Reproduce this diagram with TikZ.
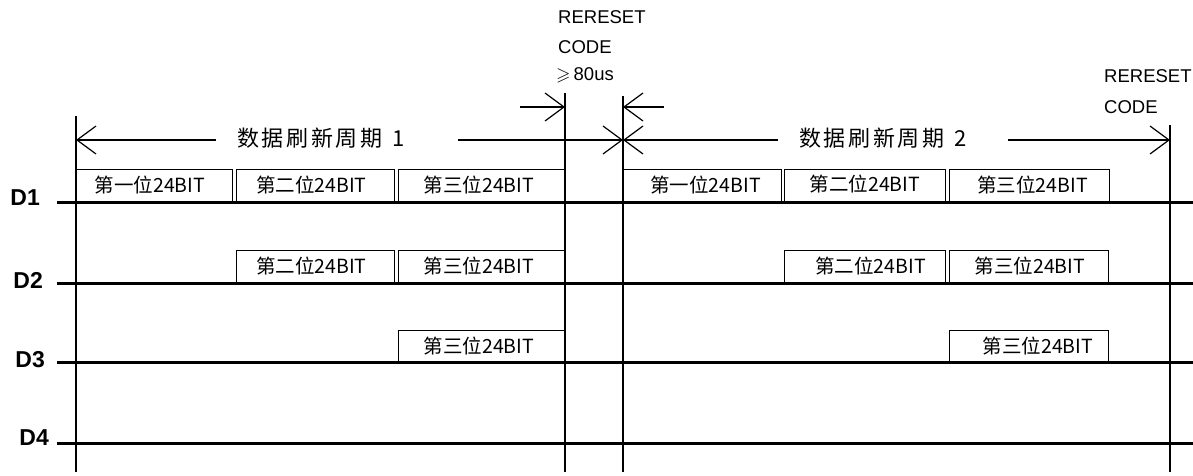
\documentclass[tikz,border=0pt]{standalone}
\usepackage{amssymb}
\usepackage{fontspec}
\setmainfont{Liberation Sans}
\newfontfamily\cjk{Noto Sans CJK SC}
\newfontfamily\cjkwide{Noto Sans CJK SC}[LetterSpace=12]
\usetikzlibrary{arrows.meta}
\tikzset{
  sigline/.style={line width=3pt},
  vline/.style={line width=1.4pt},
  bitbox/.style={draw, line width=1pt, minimum height=32pt, inner sep=0pt, anchor=south west,
    font=\cjk\fontsize{19.5}{21}\selectfont},
  dimline/.style={line width=1.2pt, -{Straight Barb[length=19pt,width=28pt]}},
  toplbl/.style={font=\fontsize{18.5}{20}\selectfont, anchor=west, inner sep=0pt},
  dlab/.style={font=\bfseries\fontsize{23}{25}\selectfont, anchor=east, inner sep=0pt},
  ttl/.style={font=\cjkwide\fontsize{22}{24}\selectfont, anchor=west, inner sep=0pt}
}
\begin{document}
\begin{tikzpicture}[x=1pt,y=-1pt]
\fill[white] (0,0) rectangle (1193,476);
\useasboundingbox (0,0) rectangle (1193,476);

% vertical lines
\coordinate (v1t) at (76,116);  \coordinate (v1b) at (76,472);
\coordinate (v2t) at (565,93);  \coordinate (v2b) at (565,472);
\coordinate (v3t) at (623,96);  \coordinate (v3b) at (623,472);
\coordinate (v4t) at (1170,125); \coordinate (v4b) at (1170,472);
\draw[vline] (v1t) -- (v1b);
\draw[vline] (v2t) -- (v2b);
\draw[vline] (v3t) -- (v3b);
\draw[vline] (v4t) -- (v4b);

% signal lines
\coordinate (d1s) at (57,202);  \coordinate (d1e) at (1193,202);
\coordinate (d2s) at (57,283);  \coordinate (d2e) at (1193,283);
\coordinate (d3s) at (57,362);  \coordinate (d3e) at (1193,362);
\coordinate (d4s) at (57,443);  \coordinate (d4e) at (1193,443);
\draw[sigline] (d1s) -- (d1e);
\draw[sigline] (d2s) -- (d2e);
\draw[sigline] (d3s) -- (d3e);
\draw[sigline] (d4s) -- (d4e);

\node[dlab] (D1) at (40,198) {D1};
\node[dlab] (D2) at (43,280) {D2};
\node[dlab] (D3) at (45,360) {D3};
\node[dlab] (D4) at (49,438) {D4};

% bit boxes, period 1
\node[bitbox, minimum width=156pt] (b11) at (76,202) {第一位24BIT\hspace*{9pt}};
\node[bitbox, minimum width=158pt] (b12) at (236,202) {第二位24BIT\hspace*{8pt}};
\node[bitbox, minimum width=167pt] (b13) at (398,202) {第三位24BIT\hspace*{6pt}};
\node[bitbox, minimum width=158pt] (b22) at (236,283) {第二位24BIT\hspace*{8pt}};
\node[bitbox, minimum width=167pt] (b23) at (398,283) {第三位24BIT\hspace*{6pt}};
\node[bitbox, minimum width=167pt, minimum height=31pt] (b33) at (398,362) {第三位24BIT\hspace*{6pt}};

% bit boxes, period 2
\node[bitbox, minimum width=158pt] (c11) at (623,202) {\hspace*{6pt}第一位24BIT};
\node[bitbox, minimum width=161pt] (c12) at (784,202) {\raisebox{5pt}{第二位24BIT}};
\node[bitbox, minimum width=160pt] (c13) at (949,202) {\hspace*{6pt}第三位24BIT};
\node[bitbox, minimum width=161pt] (c22) at (784,283) {\hspace*{11pt}第二位24BIT};
\node[bitbox, minimum width=159pt] (c23) at (949,283) {\hspace*{2pt}第三位24BIT};
\node[bitbox, minimum width=159pt, minimum height=31pt] (c33) at (949,362) {\hspace*{18pt}第三位24BIT};

% period arrows
\node[ttl] (t1) at (237,138) {数据刷新周期\hspace{10pt}1};
\node[ttl] (t2) at (799,138) {数据刷新周期\hspace{10pt}2};
\coordinate (a1L) at (76,140);  \coordinate (g1a) at (216,140);
\coordinate (g1b) at (458,140); \coordinate (a1R) at (623,140);
\coordinate (a2L) at (623,140); \coordinate (g2a) at (778,140);
\coordinate (g2b) at (1008,140); \coordinate (a2R) at (1170,140);
\draw[dimline] (g1a) -- (a1L);
\draw[dimline] (g1b) -- (a1R);
\draw[dimline] (g2a) -- (a2L);
\draw[dimline] (g2b) -- (a2R);

% reset code arrows
\coordinate (r1s) at (520,107); \coordinate (r1e) at (565,107);
\coordinate (r2s) at (664,107); \coordinate (r2e) at (623,107);
\draw[dimline] (r1s) -- (r1e);
\draw[dimline] (r2s) -- (r2e);

% labels
\node[toplbl] (rs1) at (558,17) {RERESET};
\node[toplbl] (cd1) at (558,47) {CODE};
\node[toplbl] (tm1) at (556,75) {$\geqslant$\,80us};
\node[toplbl] (rs2) at (1104,76) {RERESET};
\node[toplbl] (cd2) at (1104,107) {CODE};
\end{tikzpicture}
\end{document}
